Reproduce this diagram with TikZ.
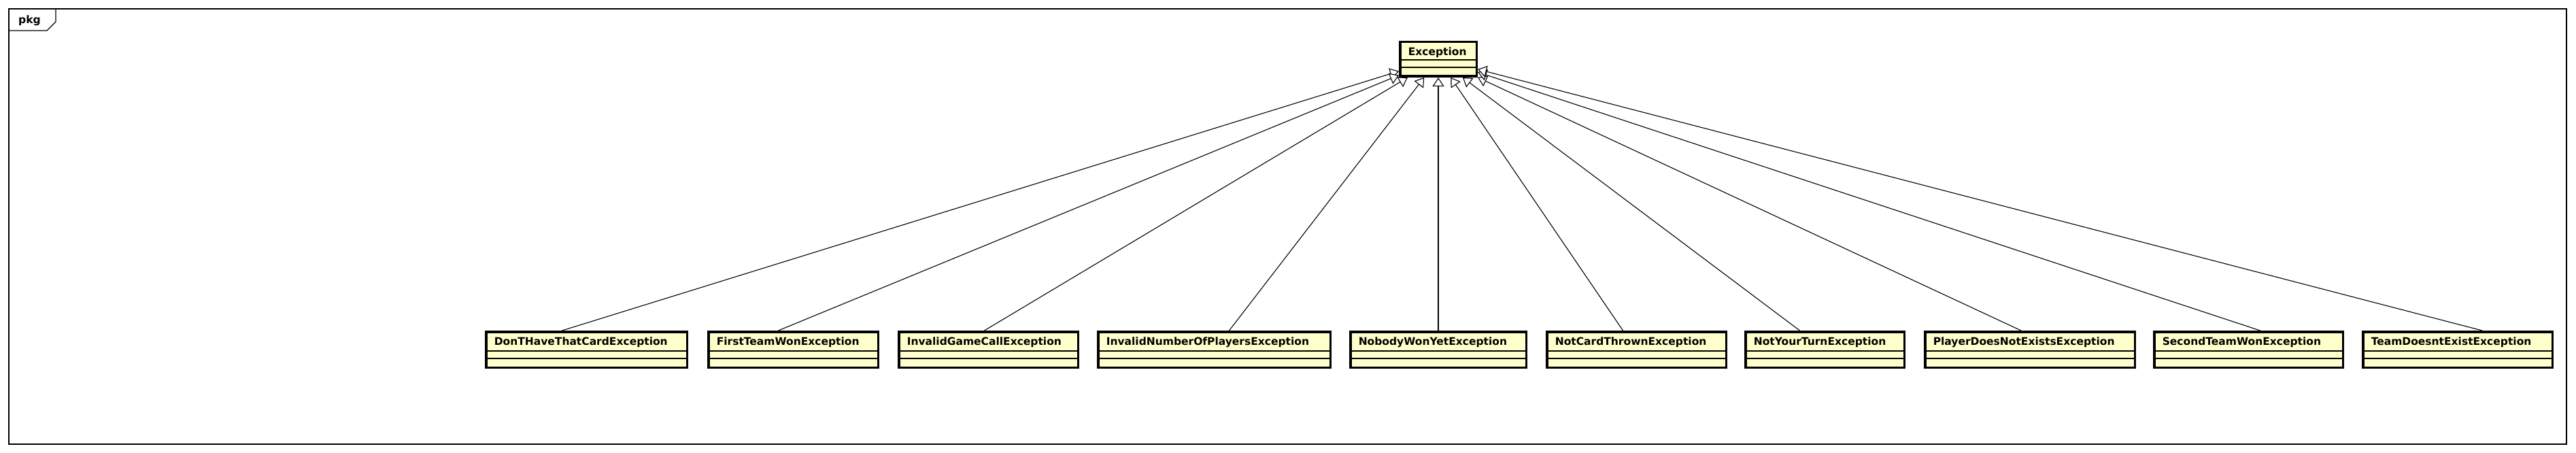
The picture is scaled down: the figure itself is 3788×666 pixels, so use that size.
\documentclass[tikz,border=0pt]{standalone}
\usepackage{fontspec}
\setmainfont{DejaVu Sans}
\usetikzlibrary{arrows.meta}
\definecolor{classfill}{RGB}{255,255,204}
\tikzset{
  cls/.style={draw, line width=3.5pt, fill=classfill, rectangle, inner xsep=12pt, inner ysep=0pt,
    align=left, text height=19.5pt, text depth=33pt, font=\bfseries\fontsize{15.5}{18}\selectfont},
  sep/.style={line width=1.2pt},
  gen/.style={line width=1.1pt, -{Triangle[open, fill=white, length=13pt, width=17pt]}}
}
% class box: [options] name, left x, right x, top y, class name
\newcommand{\umlclass}[6][]{%
  \pgfmathsetmacro{\clsw}{#4-#3-27.5}%
  \node[cls, #1, text width=\clsw pt, anchor=north west] (#2) at (#3,#5) {#6};
  \draw[sep] ([yshift=26pt]#2.south west) -- ([yshift=26pt]#2.south east);
  \draw[sep] ([yshift=15pt]#2.south west) -- ([yshift=15pt]#2.south east);
}

\begin{document}
\begin{tikzpicture}[x=1pt, y=-1pt]
\useasboundingbox (0,0) rectangle (3788,666);

% Package frame
\draw[line width=1.1pt] (13,13) rectangle (3774,653);
\draw[line width=1.1pt] (13,45) -- (69,45) -- (82,32) -- (82,13);
\node[anchor=base west, inner sep=0pt, font=\bfseries\fontsize{15.5}{18}\selectfont] (pkg) at (27,35) {pkg};

% Superclass
\umlclass[text height=20.25pt, text depth=30.25pt]{exception}{2057}{2173}{60}{Exception}

% Subclasses
\umlclass{donthave}{713}{1012}{486}{DonTHaveThatCardException}
\umlclass{firstwon}{1040}{1293}{486}{FirstTeamWonException}
\umlclass{invgame}{1320}{1587}{486}{InvalidGameCallException}
\umlclass{invplayers}{1613}{1958}{486}{InvalidNumberOfPlayersException}
\umlclass{nobody}{1984}{2246}{486}{NobodyWonYetException}
\umlclass{notcard}{2273}{2540}{486}{NotCardThrownException}
\umlclass{notturn}{2565}{2802}{486}{NotYourTurnException}
\umlclass{noplayer}{2829}{3141}{486}{PlayerDoesNotExistsException}
\umlclass{secondwon}{3166}{3447}{486}{SecondTeamWonException}
\umlclass{noteam}{3473}{3755}{486}{TeamDoesntExistException}

% Generalizations
\draw[gen] ([xshift=-36pt]donthave.north) -- (exception);
\draw[gen] ([xshift=-22pt]firstwon.north) -- (exception);
\draw[gen] ([xshift=-6pt]invgame.north) -- (exception);
\draw[gen] ([xshift=22pt]invplayers.north) -- (exception);
\draw[gen] (nobody.north) -- (exception);
\draw[gen] ([xshift=-20pt]notcard.north) -- (exception);
\draw[gen] ([xshift=-37pt]notturn.north) -- (exception);
\draw[gen] ([xshift=-13pt]noplayer.north) -- (exception);
\draw[gen] ([xshift=17pt]secondwon.north) -- (exception);
\draw[gen] ([xshift=36pt]noteam.north) -- (exception);
\end{tikzpicture}
\end{document}
